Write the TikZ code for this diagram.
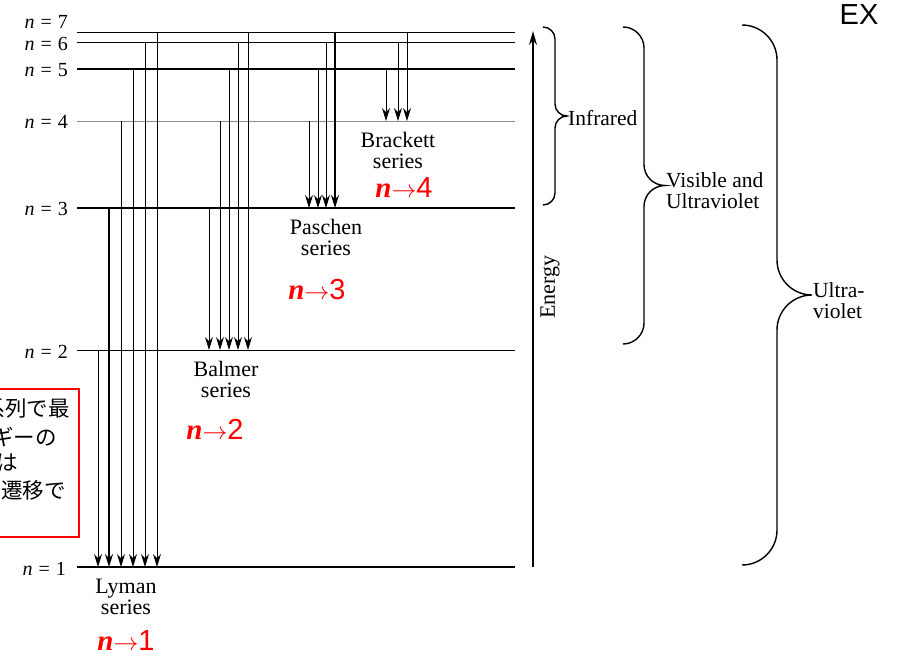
\documentclass[tikz,border=0pt]{standalone}
\usepackage{fontspec}
\setmainfont{Liberation Serif}
\setsansfont{Liberation Sans}
\newfontfamily\jpfont{Noto Sans CJK JP}
\usetikzlibrary{arrows.meta,positioning}

\tikzset{
  enlevel/.style={line width=#1},
  trans/.style={line width=#1,-{Stealth[length=13pt,width=8pt]}},
  lvlabel/.style={anchor=east,inner sep=0pt,font=\fontsize{20}{21}\selectfont},
  series/.style={align=center,inner sep=0pt,font=\fontsize{22}{21}\selectfont},
  jump/.style={text=red,inner sep=0pt,font=\fontsize{29}{30}\selectfont},
  bracelabel/.style={align=left,anchor=west,inner sep=1pt,font=\fontsize{21.5}{21}\selectfont},
  bracepath/.style={line width=1.4pt},
  memo/.style={anchor=east,inner sep=0pt,font=\jpfont\fontsize{21.5}{22}\selectfont}
}

% brace: x of the ends, top y, bottom y, radius, name of the tip
\newcommand{\specbrace}[5]{%
  \draw[bracepath] (#1,#2)
    .. controls ({#1+0.552*#4},#2) and ({#1+#4},{#2+0.448*#4}) .. ({#1+#4},{#2+#4})
    -- ({#1+#4},{(#2+#3)/2-#4})
    .. controls ({#1+#4},{(#2+#3)/2-0.448*#4}) and ({#1+1.448*#4},{(#2+#3)/2}) .. ({#1+2*#4},{(#2+#3)/2})
    coordinate (#5)
    .. controls ({#1+1.448*#4},{(#2+#3)/2}) and ({#1+#4},{(#2+#3)/2+0.448*#4}) .. ({#1+#4},{(#2+#3)/2+#4})
    -- ({#1+#4},{#3-#4})
    .. controls ({#1+#4},{#3-0.448*#4}) and ({#1+0.552*#4},#3) .. (#1,#3);}

\newcommand{\jumpto}[1]{\textbf{\textit{n}}$\rightarrow$\textsf{#1}}
\newcommand{\lv}[1]{\textit{n}\hspace{0.3em}=\hspace{0.3em}#1}

\begin{document}
\begin{tikzpicture}[x=1pt,y=-1pt]
  \useasboundingbox (0,0) rectangle (899,659);

  % Levels
  \foreach \k/\y/\w/\c in {1/567/2.4pt/black, 2/350/0.9pt/black, 3/208/1.4pt/black,
                           4/121/0.7pt/black!45, 5/69/2pt/black, 6/42/0.9pt/black,
                           7/32/0.9pt/black}
    \draw[enlevel=\w,\c] (77,\y) coordinate (lv\k) -- (515,\y) coordinate (lvend\k);

  \node[lvlabel] (lab1) at (66,569) {\lv{1}};
  \node[lvlabel] (lab2) at (68,352) {\lv{2}};
  \node[lvlabel] (lab3) at (68,209) {\lv{3}};
  \node[lvlabel] (lab4) at (68,122) {\lv{4}};
  \node[lvlabel] (lab5) at (68,70) {\lv{5}};
  \node[lvlabel] (lab6) at (68,44) {\lv{6}};
  \node[lvlabel] (lab7) at (68,22) {\lv{7}};

  % Lyman
  \foreach \x/\k/\w in {98/2/1pt, 109/3/2pt, 121/4/1pt, 133/5/1pt, 145/6/1pt, 157/7/1pt}
    \draw[trans=\w] (\x,0 |- lv\k) -- (\x,0 |- lv1);
  % Balmer
  \foreach \x/\k in {209/3, 220/4, 229/5, 238/6, 248/7}
    \draw[trans=1pt] (\x,0 |- lv\k) -- (\x,0 |- lv2);
  % Paschen
  \foreach \x/\k/\w in {309/4/1pt, 318/5/1pt, 326/6/1pt, 335/7/2pt}
    \draw[trans=\w] (\x,0 |- lv\k) -- (\x,0 |- lv3);
  % Brackett
  \foreach \x/\k in {386/5, 398/6, 407/7}
    \draw[trans=1pt] (\x,0 |- lv\k) -- (\x,0 |- lv4);

  \node[series] (lyman) at (126,597) {Lyman\\series};
  \node[series] (balmer) at (226,379) {Balmer\\series};
  \node[series] (paschen) at (326,237) {Paschen\\series};
  \node[series] (brackett) at (398,150) {Brackett\\series};

  \node[jump] (to1) at (126,641) {\jumpto{1}};
  \node[jump] (to2) at (215,429) {\jumpto{2}};
  \node[jump] (to3) at (317,290) {\jumpto{3}};
  \node[jump] (to4) at (404,188) {\jumpto{4}};

  % Energy axis
  \coordinate (ebase) at (533,567);
  \coordinate (etop) at (533,31);
  \draw[line width=1.6pt,-{Stealth[length=14pt,width=8pt]}] (ebase) -- (etop);
  \node[rotate=90,inner sep=0pt,font=\fontsize{22}{22}\selectfont] (energy) at (550,287) {Energy};

  % Ranges
  \specbrace{543}{27}{205}{12}{irtip}
  \specbrace{623}{27}{344}{21}{vistip}
  \specbrace{742}{25}{565}{35}{uvtip}
  \node[bracelabel] (ir) at ([yshift=-2pt]irtip) {Infrared};
  \node[bracelabel] (vis) at ([yshift=-5pt]vistip) {Visible and\\Ultraviolet};
  \node[bracelabel] (uv) at ([yshift=-6pt]uvtip) {Ultra-\\violet};

  % Note box (cut by the page edge)
  \draw[red,line width=2pt] (-10,389) rectangle (79,537);
  \foreach \y/\e/\t [count=\i] in {409/70/系列で最, 437/57/ギーの, 463/18/は, 490/66/遷移で}
    \node[memo] (memo\i) at (\e,\y) {\t};

  \node[inner sep=0pt,font=\sffamily\fontsize{29}{30}\selectfont] (ex) at (859,15) {EX};
\end{tikzpicture}
\end{document}
